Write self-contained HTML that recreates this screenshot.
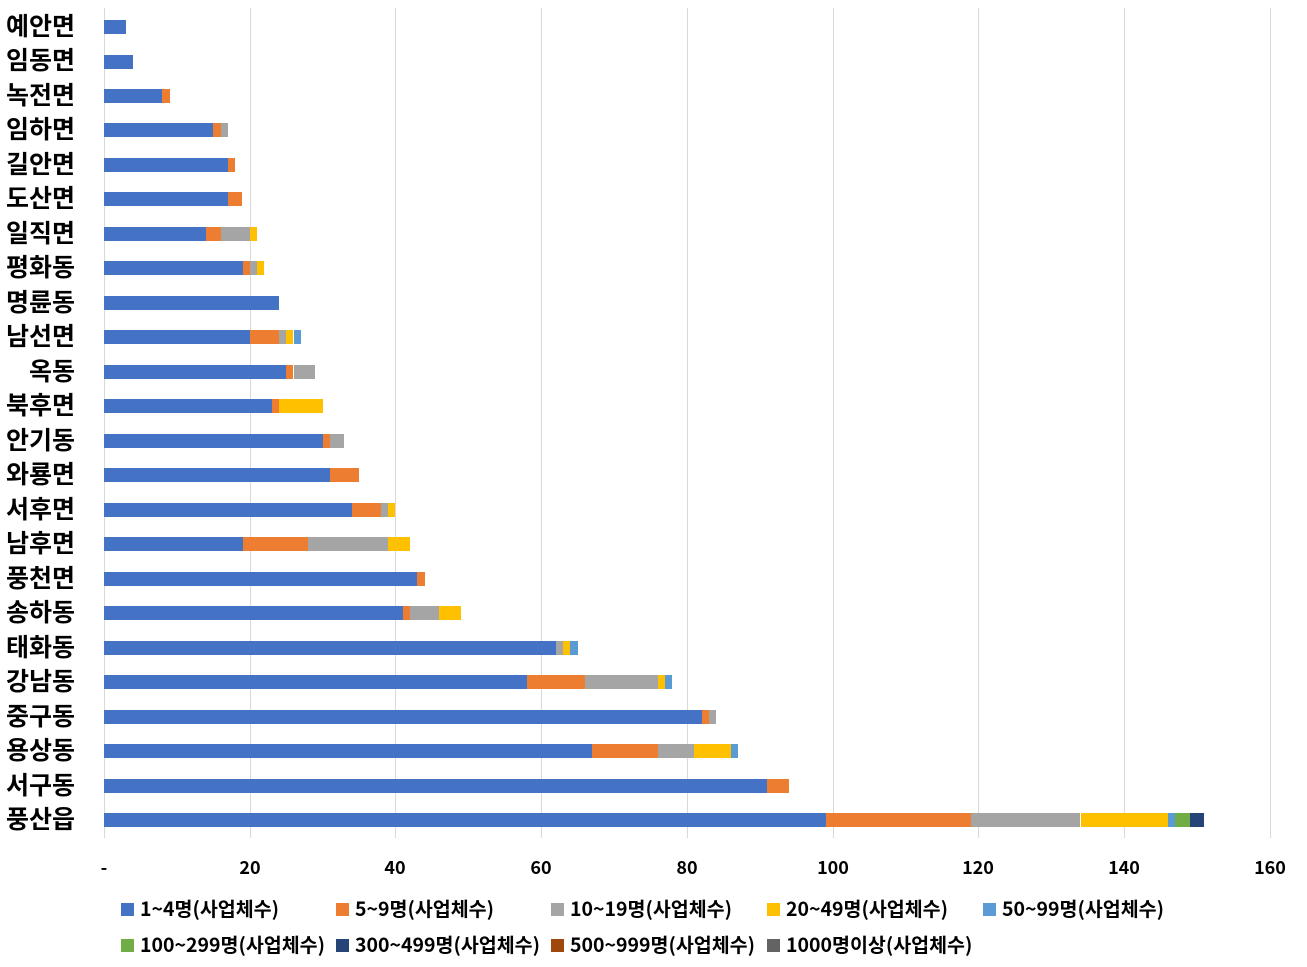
<!DOCTYPE html>
<html><head><meta charset="utf-8">
<style>
body{margin:0;background:#fff;width:1307px;height:967px;position:relative;overflow:hidden;font-family:"Noto Sans CJK KR","Liberation Sans",sans-serif;}
.g{position:absolute;top:8px;height:830px;width:1px;background:#d9d9d9;}
.lab{position:absolute;right:1232px;font-size:25px;font-weight:bold;color:#000;white-space:nowrap;line-height:28px;}
.tk{position:absolute;top:855px;font-size:18px;font-weight:bold;color:#000;width:60px;text-align:center;margin-left:-30px;line-height:24px;}
.lg{position:absolute;font-size:19.5px;font-weight:bold;color:#000;white-space:nowrap;line-height:20px;}
.lg i{display:inline-block;width:13px;height:13px;margin-right:6px;vertical-align:0px;}
.b{position:absolute;height:14px;}
</style></head><body>
<div class="g" style="left:104px"></div><div class="g" style="left:250px"></div><div class="g" style="left:395px"></div><div class="g" style="left:541px"></div><div class="g" style="left:687px"></div><div class="g" style="left:833px"></div><div class="g" style="left:978px"></div><div class="g" style="left:1124px"></div><div class="g" style="left:1270px"></div>
<div id="bars"></div>
<div class="lab" style="top:11px">예안면</div>
<div class="lab" style="top:45px">임동면</div>
<div class="lab" style="top:80px">녹전면</div>
<div class="lab" style="top:114px">임하면</div>
<div class="lab" style="top:149px">길안면</div>
<div class="lab" style="top:183px">도산면</div>
<div class="lab" style="top:218px">일직면</div>
<div class="lab" style="top:252px">평화동</div>
<div class="lab" style="top:287px">명륜동</div>
<div class="lab" style="top:321px">남선면</div>
<div class="lab" style="top:356px">옥동</div>
<div class="lab" style="top:390px">북후면</div>
<div class="lab" style="top:425px">안기동</div>
<div class="lab" style="top:459px">와룡면</div>
<div class="lab" style="top:494px">서후면</div>
<div class="lab" style="top:528px">남후면</div>
<div class="lab" style="top:563px">풍천면</div>
<div class="lab" style="top:597px">송하동</div>
<div class="lab" style="top:632px">태화동</div>
<div class="lab" style="top:666px">강남동</div>
<div class="lab" style="top:701px">중구동</div>
<div class="lab" style="top:735px">용상동</div>
<div class="lab" style="top:770px">서구동</div>
<div class="lab" style="top:804px">풍산읍</div>
<div class="tk" style="left:104px">-</div><div class="tk" style="left:250px">20</div><div class="tk" style="left:395px">40</div><div class="tk" style="left:541px">60</div><div class="tk" style="left:687px">80</div><div class="tk" style="left:833px">100</div><div class="tk" style="left:978px">120</div><div class="tk" style="left:1124px">140</div><div class="tk" style="left:1270px">160</div>
<div class="lg" style="left:121px;top:898px"><i style="background:#4472C4"></i>1~4명(사업체수)</div>
<div class="lg" style="left:336px;top:898px"><i style="background:#ED7D31"></i>5~9명(사업체수)</div>
<div class="lg" style="left:551px;top:898px"><i style="background:#A5A5A5"></i>10~19명(사업체수)</div>
<div class="lg" style="left:767px;top:898px"><i style="background:#FFC000"></i>20~49명(사업체수)</div>
<div class="lg" style="left:983px;top:898px"><i style="background:#5B9BD5"></i>50~99명(사업체수)</div>
<div class="lg" style="left:121px;top:934px"><i style="background:#70AD47"></i>100~299명(사업체수)</div>
<div class="lg" style="left:336px;top:934px"><i style="background:#264478"></i>300~499명(사업체수)</div>
<div class="lg" style="left:551px;top:934px"><i style="background:#9E480E"></i>500~999명(사업체수)</div>
<div class="lg" style="left:767px;top:934px"><i style="background:#636363"></i>1000명이상(사업체수)</div>
<script>
var C=["#4472C4","#ED7D31","#A5A5A5","#FFC000","#5B9BD5","#70AD47","#264478","#9E480E","#636363"];
var D=[[3],[4],[8,1],[15,1,1],[17,1],[17,2],[14,2,4,1],[19,1,1,1],[24],[20,4,1,1,1],[25,1,3],[23,1,0,6],[30,1,2],[31,4],[34,4,1,1],[19,9,11,3],[43,1],[41,1,4,3],[62,0,1,1,1],[58,8,10,1,1],[82,1,1],[67,9,5,5,1],[91,3],[99,20,15,12,1,2,2]];
var s=1166/160,h="";
D.forEach(function(r,i){var y=27+i*34.48-7,x=104;r.forEach(function(v,j){if(v>0){var w=v*s;h+='<div class="b" style="left:'+x.toFixed(1)+'px;top:'+y.toFixed(1)+'px;width:'+w.toFixed(1)+'px;background:'+C[j]+'"></div>';x+=w;}});});
document.getElementById("bars").innerHTML=h;
</script>
</body></html>
